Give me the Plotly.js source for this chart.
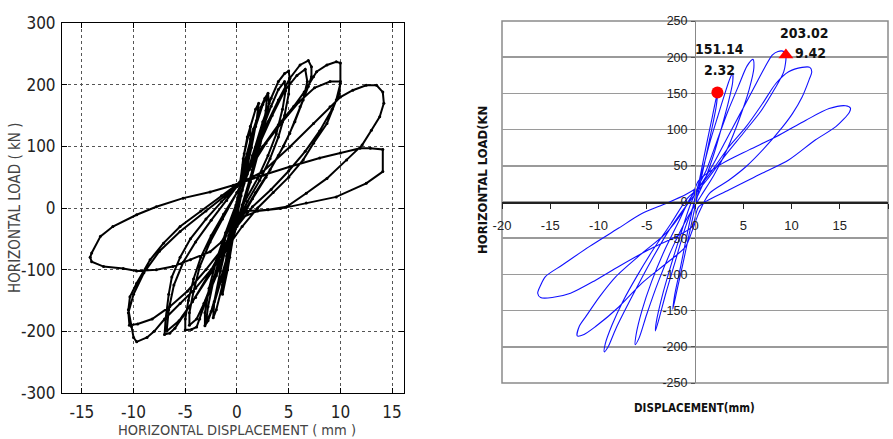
<!DOCTYPE html>
<html><head><meta charset="utf-8">
<script src="https://cdn.plot.ly/plotly-3.0.1.min.js"></script>
<style>html,body{margin:0;padding:0;background:#fff;}#chart{width:893px;height:439px;}</style>
</head><body><div id="chart"></div>
<script>
// ---- Left chart (black): horizontal displacement (mm) vs horizontal load (kN)
const blackX = [0,
 0.3,0.6,0.5,0.1,-0.3,-0.7,-0.6,-0.2,0.2,
 0.6,1.0,1.3,1.3,0.9,0.4,-0.3,-0.9,-1.4,-1.4,-1.0,-0.5,0.1,
 0.7,1.3,1.8,2.1,1.9,1.4,0.7,0,-0.7,-1.4,-2.0,-2.3,-2.2,-1.6,-0.8,0,
 0.8,1.6,2.3,2.7,3.0,3.1,2.7,2.1,1.3,0.4,-0.6,-1.5,-2.3,-2.8,-3.1,-3.1,-2.7,-2.0,-1.1,-0.1,
 0.9,1.8,2.5,2.9,2.8,2.3,1.5,0.5,-0.5,-1.6,-2.5,-3.0,-2.8,-2.2,-1.2,-0.1,
 0.5,1.5,2.5,3.3,4.0,4.6,5.0,5.1,5.0,4.6,4.0,3.2,2.2,1.0,0,-1,-2,-3,-3.6,-3.9,-4.4,-5.0,-5.0,-4.7,-4.2,-3.5,-2.5,-1.3,0,
 0.5,1.5,2.5,3.3,4.0,4.6,4.7,4.4,3.8,3.0,2.0,0.8,-0.2,-1.2,-2.3,-3.2,-3.9,-4.6,-4.6,-4.2,-3.6,-2.6,-1.4,0,
 1,2,3,4,5.1,6.1,6.9,7.2,7.2,6.9,6.1,5.1,4,2.8,1.5,0.3,-1,-2.5,-4,-5.2,-6,-6.5,-7.0,-6.9,-6.6,-6.3,-5.5,-4.5,-3,-1.5,0,
 1,2.2,3.4,4.6,5.8,6.6,6.8,6.4,5.6,4.5,3.2,1.8,0.4,-1.2,-2.8,-4.3,-5.6,-6.8,-6.6,-6.1,-5.2,-4,-2.5,-1,0,
 1,2.5,4,5.5,6.5,7.4,7.7,8.7,9.6,10,10,9.6,8.7,7.4,6.4,5,3.5,2,0.5,-1,-2.5,-4,-5.5,-7,-8,-8.7,-9.7,-10.0,-10.2,-10.5,-10.35,-9.7,-8.4,-7.1,-5.5,-3.5,-1.5,0,
 1.2,2.8,4.4,6,7.5,9,10,9.9,9.2,8,6.6,5,3.3,1.5,0,-1.5,-3,-4.8,-6.5,-8.2,-9.6,-10.4,-10.5,-10.0,-9,-7.5,-5.5,-3,-1,0,
 2.5,5.1,7.4,9,10,11.2,12.5,13.5,14.1,14.2,13.8,13.0,12.1,10.6,8.7,6.7,4.8,3,1,-0.5,-1.5,-2.6,-4.5,-6.2,-7.8,-9.7,-11,-12.9,-14.05,-14.2,-14.05,-13.2,-12,-9.7,-7.8,-5.2,-2.6,-0.35,
 2.5,5.1,8,10,11.9,12.9,14.1,14.1,12.5,9.6,6.7,4.2,2,0.5,-0.5];
const blackY = [0,
 35,70,50,5,-40,-80,-55,-15,25,
 80,115,132,112,70,20,-40,-100,-140,-118,-78,-30,18,
 88,132,160,170,142,98,45,-8,-68,-125,-165,-178,-152,-102,-45,10,
 78,128,163,178,186,170,135,92,42,-8,-60,-115,-160,-183,-191,-170,-130,-85,-40,5,
 72,132,168,181,158,115,62,5,-52,-118,-168,-186,-160,-112,-52,0,
 30,85,140,178,205,218,222,210,185,150,115,80,45,10,-25,-65,-110,-150,-180,-193,-197,-198,-180,-150,-115,-80,-45,-10,25,
 28,80,130,165,192,205,190,160,120,85,48,12,-25,-70,-118,-155,-180,-190,-170,-135,-95,-55,-18,25,
 60,100,140,175,210,232,239,229,213,197,164,121,85,50,15,-20,-60,-105,-145,-175,-195,-203,-205,-180,-140,-112,-80,-50,-18,10,35,
 55,105,150,190,215,225,205,175,140,100,62,25,-15,-60,-110,-152,-183,-200,-165,-125,-88,-55,-20,12,35,
 65,100,135,165,188,213,221,232,237,235,202,175,137,105,78,50,25,0,-30,-65,-100,-130,-155,-180,-200,-210,-217,-210,-192,-165,-144,-122,-84,-57,-30,-5,20,38,
 62,105,140,172,195,205,205,185,160,125,92,60,30,2,-30,-68,-100,-135,-160,-180,-188,-190,-170,-140,-105,-70,-38,-5,22,38,
 59,99,137,164,180,191,199,199,188,170,148,126,102,78,48,24,2,-3,-5,-25,-55,-71,-84,-95,-100,-102,-98,-95,-87,-80,-73,-46,-30,-11,2,16,26,37,
 53,67,81,89,97,97,95,59,40,18,8,-1,-5,-15,-45];

// ---- Right chart (blue): displacement (mm) vs horizontal load (kN)
const blueX = [0,0.6,1.2,1.8,2.32,
 2.2,1.6,0.9,0.2,-0.5,-1.2,-1.8,-2.3,
 -2.1,-1.5,-0.9,-0.3,0.1,
 0.8,1.6,2.4,3.1,3.6,3.9,
 3.9,3.5,2.8,2.0,1.0,0,-1.0,-2.0,-3.0,-3.7,-4.1,
 -4.0,-3.4,-2.5,-1.5,-0.6,0.2,
 1.2,2.3,3.4,4.5,5.4,6.0,
 6.1,5.6,4.6,3.4,2.0,0.6,-0.8,-2.3,-3.8,-5.0,-5.8,-6.2,
 -6.1,-5.5,-4.5,-3.2,-1.8,-0.5,0.5,
 1.8,3.2,4.6,6.0,7.2,8.0,8.6,9.2,9.42,
 9.2,8.2,6.8,5,3,1.2,-0.5,-2.5,-4.5,-6.5,-8.2,-9.0,-9.4,
 -9.3,-8.6,-7.5,-6,-4.3,-2.5,-0.8,0.4,
 1.8,3.5,5.3,7,8.4,9.7,11.1,11.9,12.1,
 11.8,11.1,10.1,9.1,7.3,5.3,3.5,1.5,0.4,-0.3,-1,-3,-5.5,-7.9,-10.3,-11.5,-12.2,
 -12.0,-11.3,-9.9,-8.2,-5.5,-3,-1.2,-0.2,
 0.4,2.8,5.6,8.4,11.5,13.9,15.6,16.1,
 16.0,14.6,12.5,9.7,7,3.5,0.4,-0.3,-2,-4.8,-7.9,-10.3,-12.9,-14.8,-16,-16.3,
 -16.0,-15.5,-13.75,-11,-7.9,-5.5,-3,-1,0];
const blueY = [0,40,80,118,151,
 132,92,48,5,-38,-82,-118,-148,
 -128,-90,-50,-12,12,
 45,85,120,150,170,178,
 165,140,105,68,30,0,-35,-80,-125,-160,-178,
 -165,-130,-88,-45,-8,18,
 45,85,125,160,188,197,
 185,155,115,75,38,8,-22,-62,-110,-155,-188,-197,
 -183,-150,-110,-68,-30,5,22,
 50,85,120,155,185,203,208,208,203,
 180,155,125,95,62,30,2,-35,-80,-130,-175,-200,-207,
 -196,-170,-138,-102,-65,-30,5,20,
 44,76,104,136,164,180,186,186,180,
 168,145,122,104,76,49,30,12,-15,-40,-62,-85,-112,-145,-172,-183,-185,
 -172,-158,-131,-103,-71,-43,-12,12,
 30,53,72,90,113,129,133,130,
 124,104,86,58,40,16.6,-6.5,-34,-48,-66,-89,-108,-126,-132,-132,-126,
 -115,-103,-87,-62,-36,-16,-2,10,18];

// peak markers and their labels
const circleX = [2.32], circleY = [151.14];
const triX = [9.42], triY = [203.02];

const leftXTicks = [-15,-10,-5,0,5,10,15];
const leftYTicks = [-300,-200,-100,0,100,200,300];
const rightXTicks = [-20,-15,-10,-5,0,5,10,15,20];
const rightYTicks = [-250,-200,-150,-100,-50,0,50,100,150,200,250];

const narrow = 'DejaVu Sans Condensed, Liberation Sans Narrow, Arial Narrow, Liberation Sans, Arial, sans-serif';
const arial = 'Liberation Sans, Arial, sans-serif';

const traces = [
  {x: blackX, y: blackY, xaxis:'x', yaxis:'y', mode:'lines+markers', type:'scatter',
   line:{color:'#000', width:2}, marker:{color:'#000', size:3}, hoverinfo:'skip'},
  {x: blueX, y: blueY, xaxis:'x2', yaxis:'y2', mode:'lines', type:'scatter',
   line:{color:'#1010ff', width:1.1, shape:'spline', smoothing:0.8}, hoverinfo:'skip'},
  {x: circleX, y: circleY, xaxis:'x2', yaxis:'y2', mode:'markers', type:'scatter',
   marker:{color:'#ff0000', size:12, symbol:'circle'}},
  {x: triX, y: triY, xaxis:'x2', yaxis:'y2', mode:'markers', type:'scatter',
   marker:{color:'#ff0000', size:13, symbol:'triangle-up'}}
];

const layout = {
  width: 893, height: 439,
  margin: {l:62, r:5, t:21, b:46, pad:0},
  paper_bgcolor:'#fff', plot_bgcolor:'rgba(0,0,0,0)',
  showlegend:false,
  xaxis: {domain:[0,0.41404], range:[-16.92,16.15], tickvals:leftXTicks, ticktext:leftXTicks.map(String),
    showgrid:true, gridcolor:'#555', griddash:'3px,3px', gridwidth:1, zeroline:false,
    showline:true, mirror:'ticks', linecolor:'#000', linewidth:1,
    ticks:'inside', ticklen:5, tickcolor:'#000',
    tickfont:{family:narrow, size:17, color:'#222'}, ticklabelstandoff:4},
  yaxis: {domain:[0,0.99462], range:[-300,300], tickvals:leftYTicks, ticktext:leftYTicks.map(String),
    showgrid:true, gridcolor:'#555', griddash:'3px,3px', gridwidth:1, zeroline:false,
    showline:true, mirror:'ticks', linecolor:'#000', linewidth:1,
    ticks:'inside', ticklen:5, tickcolor:'#000',
    tickfont:{family:narrow, size:17, color:'#222'}, ticklabelstandoff:2},
  xaxis2: {domain:[0.53269,1], range:[-20,20], tickvals:rightXTicks, ticktext:rightXTicks.map(String),
    anchor:'free', position:0.51344, showgrid:false, zeroline:false,
    showline:true, linecolor:'#222', linewidth:1.5,
    ticks:'outside', ticklen:5, tickcolor:'#222', tickwidth:1,
    tickfont:{family:arial, size:13, color:'#222'}, ticklabelstandoff:6},
  yaxis2: {domain:[0.02688,1], range:[-250,250], tickvals:rightYTicks, ticktext:rightYTicks.map(String),
    anchor:'free', position:0.76634, showgrid:true, gridcolor:'#9a9a9a', gridwidth:1.5, zeroline:false,
    showline:true, linecolor:'#888', linewidth:1.5,
    ticks:'outside', ticklen:4, tickcolor:'#555',
    tickfont:{family:arial, size:12.5, color:'#222'}, ticklabelstandoff:1},
  shapes: [
    {type:'rect', xref:'x2 domain', yref:'y2 domain', x0:0, x1:1, y0:0, y1:1,
     line:{color:'#8a8a8a', width:1.5}, fillcolor:'rgba(0,0,0,0)', layer:'below'}
  ],
  annotations: [
    {xref:'paper', yref:'paper', x:0.2119, y:-0.1, xanchor:'center', yanchor:'middle', showarrow:false,
     text:'HORIZONTAL DISPLACEMENT ( mm )', font:{family:narrow, size:14.5, color:'#444'}},
    {xref:'paper', yref:'paper', x:-0.0569, y:0.4973, xanchor:'center', yanchor:'middle', showarrow:false, textangle:-90,
     text:'HORIZONTAL LOAD ( kN )', font:{family:narrow, size:15, color:'#444'}},
    {xref:'paper', yref:'paper', x:0.7663, y:-0.0403, xanchor:'center', yanchor:'middle', showarrow:false,
     text:'<b>DISPLACEMENT(mm)</b>', font:{family:narrow, size:11.5, color:'#111'}},
    {xref:'paper', yref:'paper', x:0.5097, y:0.5726, xanchor:'center', yanchor:'middle', showarrow:false, textangle:-90,
     text:'<b>HORIZONTAL LOAD(KN</b>', font:{family:narrow, size:13, color:'#111'}},
    {xref:'x2', yref:'y2', x:2.5, y:211, showarrow:false, xanchor:'center', yanchor:'middle',
     text:'<b>'+circleY[0].toFixed(2)+'</b>', font:{family:narrow, size:14, color:'#111'}},
    {xref:'x2', yref:'y2', x:2.5, y:182, showarrow:false, xanchor:'center', yanchor:'middle',
     text:'<b>'+circleX[0].toFixed(2)+'</b>', font:{family:narrow, size:14, color:'#111'}},
    {xref:'x2', yref:'y2', x:11.3, y:234, showarrow:false, xanchor:'center', yanchor:'middle',
     text:'<b>'+triY[0].toFixed(2)+'</b>', font:{family:narrow, size:14, color:'#111'}},
    {xref:'x2', yref:'y2', x:12.0, y:206, showarrow:false, xanchor:'center', yanchor:'middle',
     text:'<b>'+triX[0].toFixed(2)+'</b>', font:{family:narrow, size:14, color:'#111'}}
  ]
};

Plotly.newPlot('chart', traces, layout, {displayModeBar:false, staticPlot:true});
</script></body></html>
